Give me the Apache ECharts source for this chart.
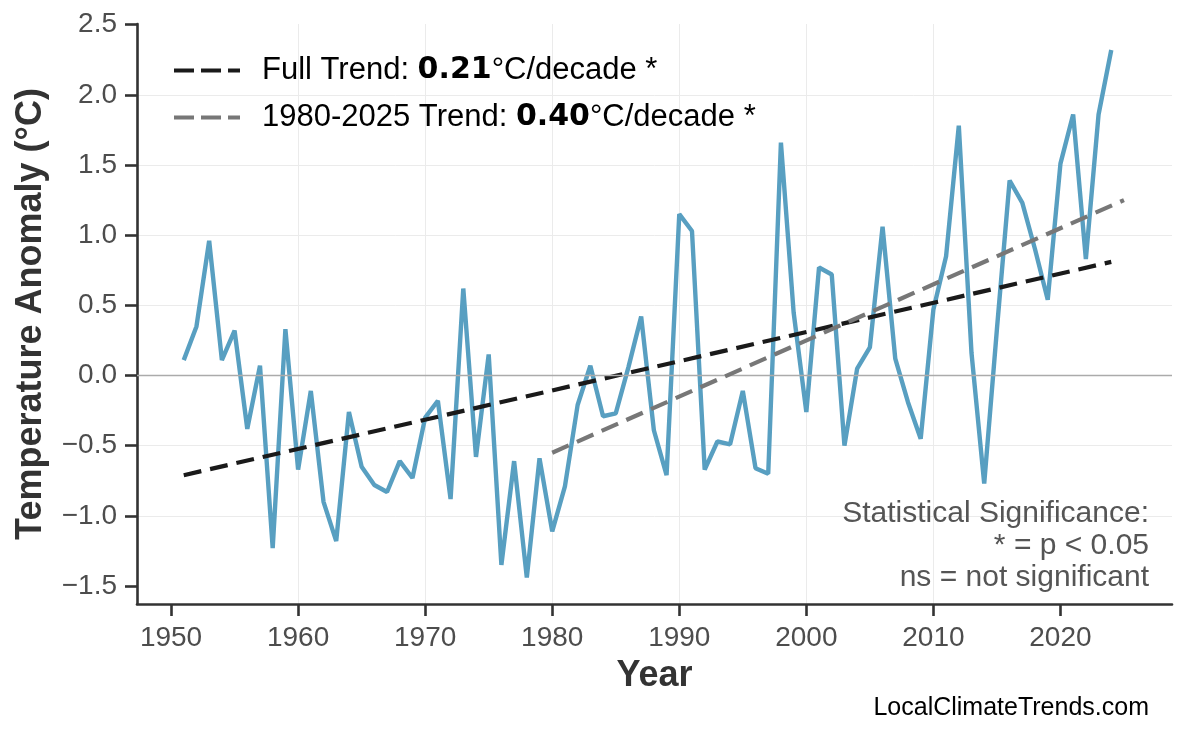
<!DOCTYPE html>
<html>
<head>
	<meta charset="utf-8">
	<script src="https://cdn.jsdelivr.net/npm/echarts@6/dist/echarts.min.js"></script>
	<title>Temperature Anomaly</title>
	<style>
		html, body { margin: 0; padding: 0; background: #fff; }
		#main { width: 1186px; height: 735px; }
	</style>
</head>
<body>
	<div id="main"></div>

	<script type="text/javascript">
	// annual temperature anomaly (°C), 1951-2024
	var years = [1951, 1952, 1953, 1954, 1955, 1956, 1957, 1958, 1959, 1960,
		1961, 1962, 1963, 1964, 1965, 1966, 1967, 1968, 1969, 1970,
		1971, 1972, 1973, 1974, 1975, 1976, 1977, 1978, 1979, 1980,
		1981, 1982, 1983, 1984, 1985, 1986, 1987, 1988, 1989, 1990,
		1991, 1992, 1993, 1994, 1995, 1996, 1997, 1998, 1999, 2000,
		2001, 2002, 2003, 2004, 2005, 2006, 2007, 2008, 2009, 2010,
		2011, 2012, 2013, 2014, 2015, 2016, 2017, 2018, 2019, 2020,
		2021, 2022, 2023, 2024];
	var anomalies = [0.11, 0.35, 0.96, 0.11, 0.32, -0.38, 0.07, -1.23, 0.33, -0.67,
		-0.11, -0.90, -1.18, -0.26, -0.65, -0.78, -0.83, -0.61, -0.73, -0.30,
		-0.18, -0.88, 0.62, -0.58, 0.15, -1.35, -0.61, -1.44, -0.59, -1.11,
		-0.79, -0.21, 0.07, -0.29, -0.27, 0.06, 0.42, -0.39, -0.71, 1.15,
		1.03, -0.67, -0.47, -0.49, -0.11, -0.66, -0.70, 1.66, 0.45, -0.26,
		0.77, 0.72, -0.50, 0.05, 0.20, 1.06, 0.12, -0.19, -0.45, 0.47,
		0.85, 1.78, 0.16, -0.77, 0.33, 1.39, 1.23, 0.90, 0.54, 1.51,
		1.86, 0.83, 1.86, 2.32];

	// trend line end points [year, value]
	var trendFull = [[1951, -0.71], [2024, 0.81]];
	var trendRecent = [[1980, -0.55], [2025, 1.25]];
	var trendNames = ['Full Trend', '1980-2025 Trend'];
	var trendRates = ['0.21', '0.40'];

	// ticks
	var xTicks = [1950, 1960, 1970, 1980, 1990, 2000, 2010, 2020];
	var yTicks = [-1.5, -1.0, -0.5, 0.0, 0.5, 1.0, 1.5, 2.0, 2.5];

	var points = [];
	for (var i = 0; i < years.length; i++) {
		points.push([years[i], anomalies[i]]);
	}

	var myChart = echarts.init(document.getElementById('main'));

	var axisColor = '#333333';
	var labelColor = '#4d4d4d';

	var option = {
		backgroundColor: '#ffffff',
		animation: false,
		grid: { left: 137, right: 14, top: 24, bottom: 131, containLabel: false },
		legend: {
			orient: 'vertical',
			left: 167,
			top: 50,
			itemWidth: 66,
			itemHeight: 20,
			itemGap: 16,
			data: trendNames,
			itemStyle: { opacity: 0 },
			lineStyle: { width: 4, type: [20, 7] },
			formatter: function (name) {
				var k = trendNames.indexOf(name);
				return '{s|}{a|' + name + ': }{b|' + trendRates[k] + '}{a|°C/decade *}';
			},
			textStyle: {
				rich: {
					s: { width: 17 },
					a: { fontFamily: 'Liberation Sans', fontSize: 31, color: '#000', lineHeight: 36 },
					b: { fontFamily: 'DejaVu Sans', fontWeight: 'bold', fontSize: 30, color: '#000', lineHeight: 36 }
				}
			}
		},
		xAxis: {
			type: 'value',
			min: 1947.32,
			max: 2028.78,
			name: 'Year',
			nameLocation: 'middle',
			nameGap: 54,
			nameTextStyle: { fontFamily: 'Liberation Sans', fontWeight: 'bold', fontSize: 36, color: axisColor },
			axisLine: { show: true, onZero: false, lineStyle: { color: axisColor, width: 2.6 } },
			axisTick: { show: true, inside: false, customValues: xTicks, length: 12, lineStyle: { color: axisColor, width: 2.6 } },
			axisLabel: {
				customValues: xTicks,
				margin: 20,
				fontFamily: 'Liberation Sans',
				fontSize: 28,
				color: labelColor,
				formatter: function (v) { return String(v); }
			},
			splitLine: { show: true, showMinLine: false, showMaxLine: false, lineStyle: { color: '#ebebeb', width: 1 } }
		},
		yAxis: {
			type: 'value',
			min: -1.628,
			max: 2.505,
			name: 'Temperature Anomaly (°C)',
			nameLocation: 'middle',
			nameGap: 88,
			nameTextStyle: { fontFamily: 'Liberation Sans', fontWeight: 'bold', fontSize: 36, color: axisColor },
			axisLine: { show: true, onZero: false, lineStyle: { color: axisColor, width: 2.6 } },
			axisTick: { show: true, inside: false, customValues: yTicks, length: 12, lineStyle: { color: axisColor, width: 2.6 } },
			axisLabel: {
				customValues: yTicks,
				margin: 20,
				fontFamily: 'Liberation Sans',
				fontSize: 28,
				color: labelColor,
				formatter: function (v) {
					return (v < 0 ? '\u2212' : '') + Math.abs(v).toFixed(1);
				}
			},
			splitLine: { show: true, showMinLine: false, showMaxLine: false, lineStyle: { color: '#ebebeb', width: 1 } }
		},
		series: [
			{
				name: 'zero',
				type: 'line',
				data: [],
				z: 1,
				silent: true,
				markLine: {
					silent: true,
					symbol: 'none',
					label: { show: false },
					lineStyle: { color: '#ababab', width: 1.4, type: 'solid' },
					data: [{ yAxis: 0 }]
				}
			},
			{
				name: 'Anomaly',
				type: 'line',
				data: points,
				z: 3,
				symbol: 'none',
				lineStyle: { color: '#589fc1', width: 4.4 },
				itemStyle: { color: '#589fc1' }
			},
			{
				name: trendNames[0],
				type: 'line',
				data: trendFull,
				z: 4,
				symbol: 'none',
				lineStyle: { color: '#1a1a1a', width: 4.2, type: [18, 9] },
				itemStyle: { color: '#1a1a1a' }
			},
			{
				name: trendNames[1],
				type: 'line',
				data: trendRecent,
				z: 5,
				symbol: 'none',
				lineStyle: { color: '#777777', width: 4.2, type: [18, 9] },
				itemStyle: { color: '#777777' }
			}
		],
		graphic: [
			{
				type: 'text',
				x: 1149,
				y: 498,
				z: 10,
				style: {
					text: 'Statistical Significance:\n* = p < 0.05\nns = not significant',
					font: '30px "Liberation Sans"',
					fill: '#555555',
					align: 'right',
					verticalAlign: 'top',
					lineHeight: 32
				}
			},
			{
				type: 'text',
				x: 1149,
				y: 696,
				z: 10,
				style: {
					text: 'LocalClimateTrends.com',
					font: '25px "Liberation Sans"',
					fill: '#000000',
					align: 'right',
					verticalAlign: 'top'
				}
			}
		]
	};

	myChart.setOption(option);
	</script>
</body>
</html>
